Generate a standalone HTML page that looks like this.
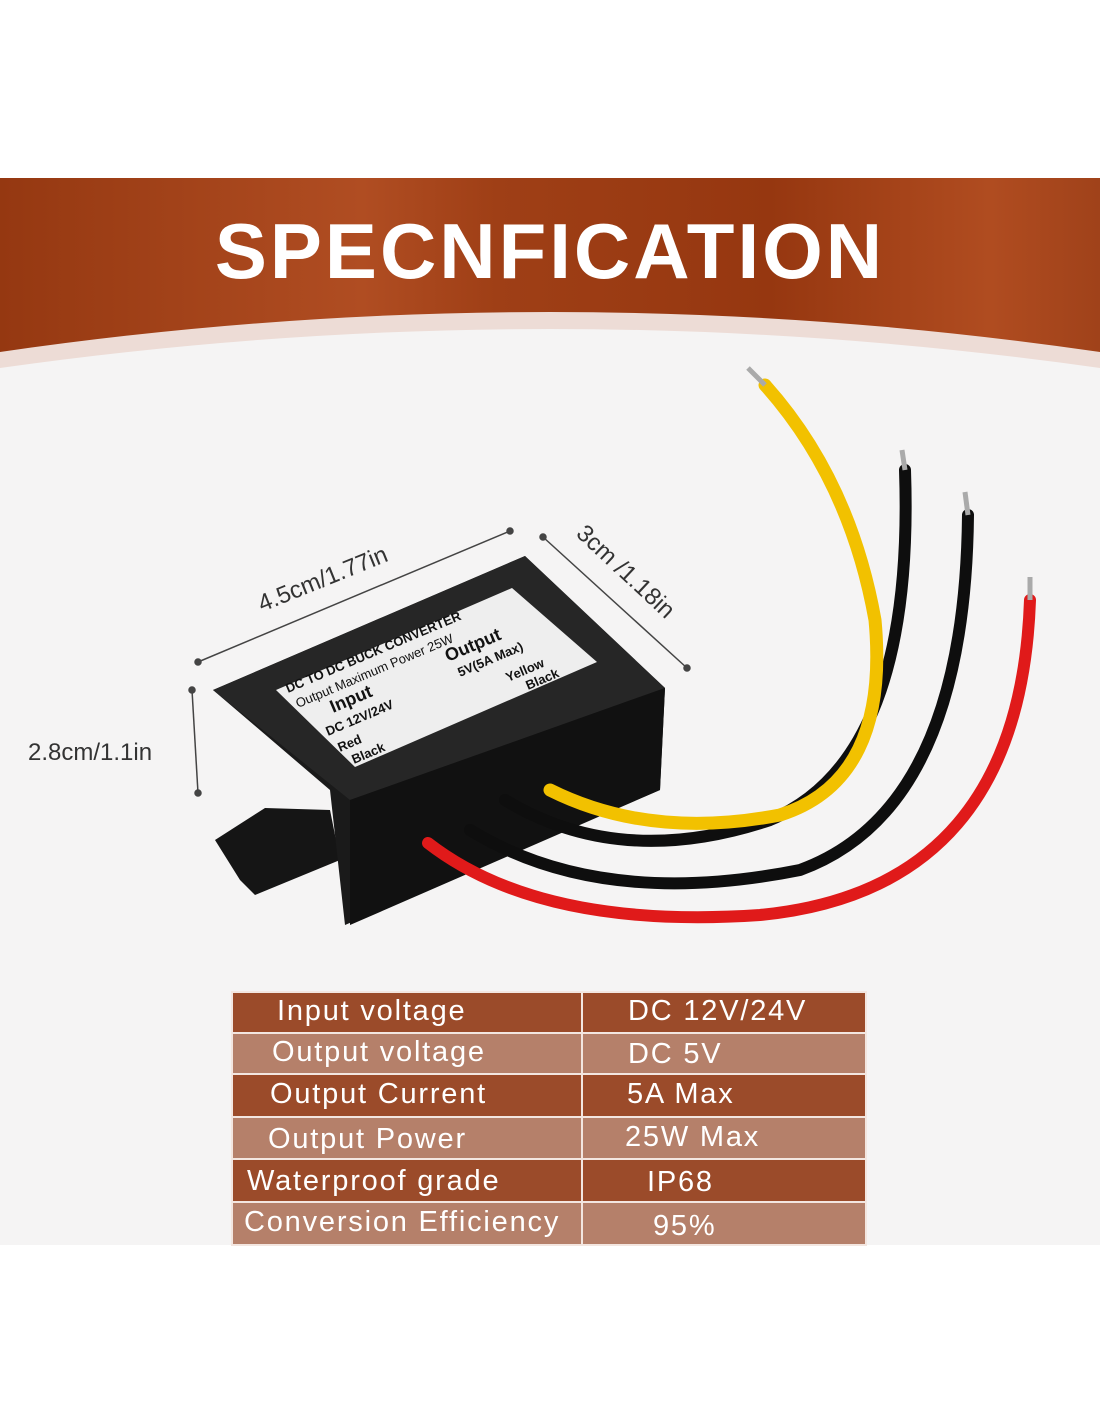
<!DOCTYPE html>
<html><head><meta charset="utf-8"><style>
html,body{margin:0;padding:0;width:1100px;height:1422px;background:#fff;overflow:hidden;font-family:"Liberation Sans","DejaVu Sans",sans-serif}
.t{position:absolute;color:#fff;font-size:29px;line-height:1;white-space:nowrap;letter-spacing:1.8px}
</style></head><body>
<svg width="1100" height="1422" style="position:absolute;left:0;top:0">
<defs>
<linearGradient id="bg" x1="0" x2="1">
<stop offset="0" stop-color="#953811"/><stop offset="0.33" stop-color="#b04d22"/><stop offset="0.45" stop-color="#9f3f16"/><stop offset="0.7" stop-color="#963710"/><stop offset="0.9" stop-color="#b04c20"/><stop offset="1" stop-color="#a0421a"/>
</linearGradient>
</defs>
<rect x="0" y="178" width="1100" height="1067" fill="#f5f4f4"/>
<path d="M0 178H1100V368Q550 290 0 368Z" fill="#eddcd6"/>
<path d="M0 178H1100V352Q550 272 0 352Z" fill="url(#bg)"/>
<text x="550" y="278" text-anchor="middle" font-family="Liberation Sans,sans-serif" font-weight="bold" font-size="78" fill="#fff" letter-spacing="3">SPECNFICATION</text>
<g stroke="#444" stroke-width="1.5" fill="#444">
<line x1="198" y1="662" x2="510" y2="531"/><circle cx="198" cy="662" r="3"/><circle cx="510" cy="531" r="3"/>
<line x1="543" y1="537" x2="687" y2="668"/><circle cx="543" cy="537" r="3"/><circle cx="687" cy="668" r="3"/>
<line x1="192" y1="690" x2="198" y2="793"/><circle cx="192" cy="690" r="3"/><circle cx="198" cy="793" r="3"/>
</g>
<text x="262" y="612" transform="rotate(-22 262 612)" font-size="24" fill="#333">4.5cm/1.77in</text>
<text x="575" y="535" transform="rotate(43 575 535)" font-size="24" fill="#333">3cm /1.18in</text>
<text x="28" y="760" font-size="24" fill="#333">2.8cm/1.1in</text>
<path d="M215 840L265 808L330 810L340 860L255 895L240 880Z" fill="#151515"/>
<path d="M213 690L525 556L665 688L660 790L345 925L330 790Z" fill="#1a1a1a"/>
<path d="M213 690L525 556L665 688L350 800Z" fill="#262626"/>
<path d="M350 800L665 688L660 790L350 925Z" fill="#111"/>
<path d="M276 690L512 588L597 662L355 767Z" fill="#eee"/>
<g font-size="13" font-weight="bold" fill="#111">
<text transform="translate(288 693) rotate(-23)">DC TO DC BUCK CONVERTER</text>
<text transform="translate(298 708) rotate(-23)" font-weight="normal">Output Maximum Power 25W</text>
<text transform="translate(333 713) rotate(-23)" font-size="18">Input</text>
<text transform="translate(328 736) rotate(-23)">DC 12V/24V</text>
<text transform="translate(340 752) rotate(-23)">Red</text>
<text transform="translate(354 764) rotate(-23)">Black</text>
<text transform="translate(448 662) rotate(-23)" font-size="18">Output</text>
<text transform="translate(460 677) rotate(-23)">5V(5A Max)</text>
<text transform="translate(508 682) rotate(-23)">Yellow</text>
<text transform="translate(528 690) rotate(-23)">Black</text>
</g>
<g fill="none" stroke-linecap="round">
<path d="M428 843Q540 930 760 915Q1020 890 1030 600" stroke="#e01a1a" stroke-width="12"/>
<path d="M470 830Q600 910 800 870Q965 810 968 515" stroke="#0e0e0e" stroke-width="12"/>
<path d="M505 800Q620 870 770 820Q915 760 905 470" stroke="#0e0e0e" stroke-width="12"/>
<path d="M550 790Q650 840 780 815Q890 780 875 620Q850 480 765 385" stroke="#f2c100" stroke-width="13"/>
</g>
<g stroke="#aaa" stroke-width="5"><line x1="1030" y1="600" x2="1030" y2="577"/><line x1="968" y1="515" x2="965" y2="492"/><line x1="905" y1="470" x2="902" y2="450"/><line x1="765" y1="385" x2="748" y2="368"/></g>
<g stroke="#f3e6e0" stroke-width="2">
<rect x="232" y="992" width="634" height="41" fill="#9b4b2a"/>
<rect x="232" y="1033" width="634" height="41" fill="#b5806a"/>
<rect x="232" y="1074" width="634" height="43" fill="#9b4b2a"/>
<rect x="232" y="1117" width="634" height="42" fill="#b5806a"/>
<rect x="232" y="1159" width="634" height="43" fill="#9b4b2a"/>
<rect x="232" y="1202" width="634" height="43" fill="#b5806a"/>
<line x1="582" y1="992" x2="582" y2="1245"/>
</g>
</svg>
<div class="t" style="left:277px;top:997px">Input voltage</div>
<div class="t" style="left:628px;top:997px">DC 12V/24V</div>
<div class="t" style="left:272px;top:1038px">Output voltage</div>
<div class="t" style="left:628px;top:1040px">DC 5V</div>
<div class="t" style="left:270px;top:1080px">Output Current</div>
<div class="t" style="left:627px;top:1080px">5A Max</div>
<div class="t" style="left:268px;top:1125px">Output Power</div>
<div class="t" style="left:625px;top:1123px">25W Max</div>
<div class="t" style="left:247px;top:1167px">Waterproof grade</div>
<div class="t" style="left:647px;top:1168px">IP68</div>
<div class="t" style="left:244px;top:1208px">Conversion Efficiency</div>
<div class="t" style="left:653px;top:1212px">95%</div>
</body></html>
